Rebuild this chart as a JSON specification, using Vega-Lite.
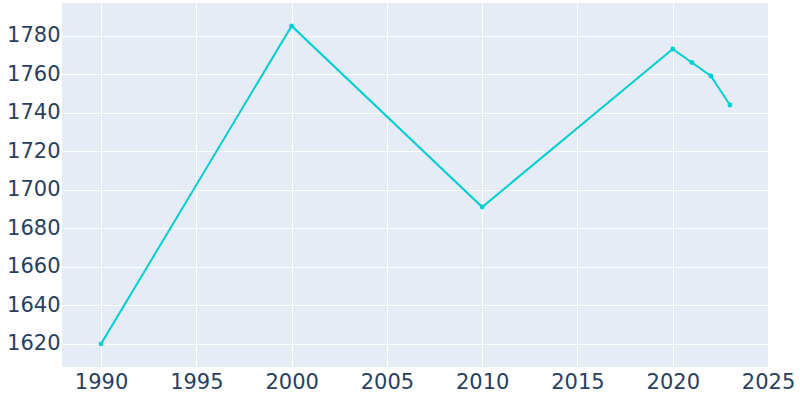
{
  "$schema": "https://vega.github.io/schema/vega-lite/v6.json",
  "autosize": {"type": "none"},
  "width": 707,
  "height": 364,
  "padding": {"left": 62, "top": 3, "right": 31, "bottom": 33},
  "background": "white",
  "config": {
    "view": {"fill": "#E5ECF6", "stroke": null},
    "axis": {
      "domain": false,
      "ticks": false,
      "gridColor": "white",
      "gridWidth": 1,
      "labelColor": "#2a3f5f",
      "labelFont": "DejaVu Sans",
      "labelFontSize": 21,
      "title": null
    }
  },
  "data": {
    "values": [
      {"year": 1990, "population": 1620},
      {"year": 2000, "population": 1785},
      {"year": 2010, "population": 1691},
      {"year": 2020, "population": 1773},
      {"year": 2021, "population": 1766},
      {"year": 2022, "population": 1759},
      {"year": 2023, "population": 1744}
    ]
  },
  "encoding": {
    "x": {
      "field": "year",
      "type": "quantitative",
      "scale": {"domain": [1987.95, 2025.05], "nice": false, "zero": false},
      "axis": {"values": [1990, 1995, 2000, 2005, 2010, 2015, 2020, 2025], "format": "d", "labelPadding": 4, "labelFlush": false}
    },
    "y": {
      "field": "population",
      "type": "quantitative",
      "scale": {"domain": [1608.0, 1796.9], "nice": false, "zero": false},
      "axis": {"values": [1620, 1640, 1660, 1680, 1700, 1720, 1740, 1760, 1780], "format": "d", "labelPadding": 2}
    }
  },
  "layer": [
    {"mark": {"type": "line", "color": "#00CED1", "strokeWidth": 2}},
    {"mark": {"type": "point", "filled": true, "color": "#00CED1", "size": 24, "opacity": 1}}
  ]
}
